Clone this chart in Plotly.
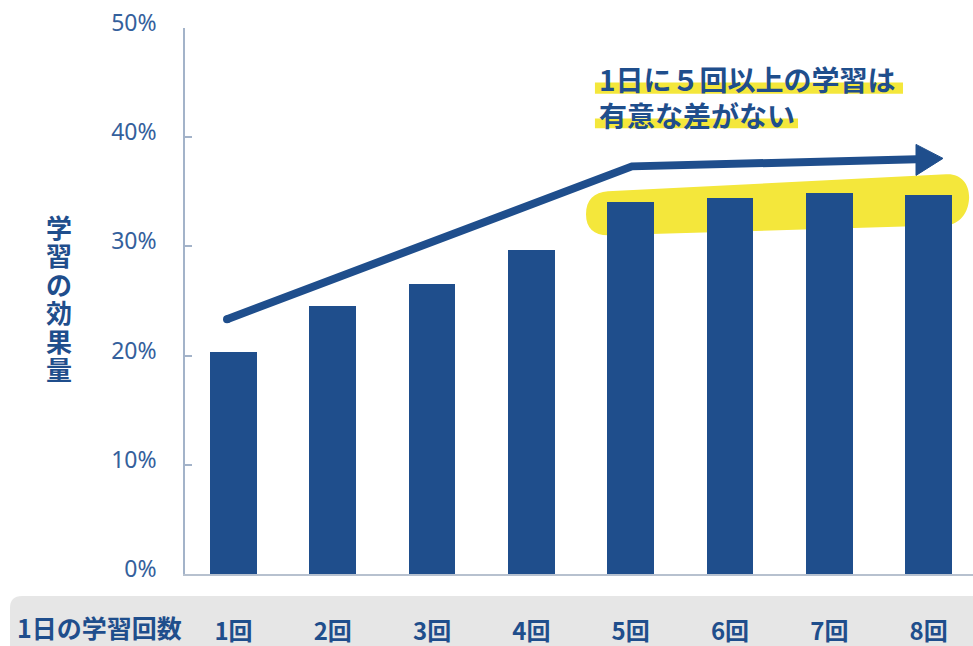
import plotly.graph_objects as go

# ---- data ----
categories = ["1回", "2回", "3回", "4回", "5回", "6回", "7回", "8回"]
effect = [20.3, 24.5, 26.6, 29.7, 34.1, 34.4, 34.9, 34.7]
y_ticks = [0, 10, 20, 30, 40, 50]
y_tick_labels = ["0%", "10%", "20%", "30%", "40%", "50%"]
x_title = "1日の学習回数"
y_title = "学習の効果量"
note_lines = ["1日に５回以上の学習は", "有意な差がない"]

# ---- style ----
BLUE = "#1f4e8c"
TICK_BLUE = "#34609c"
AXIS = "#a3b3c9"
YELLOW = "#f4e73b"
BAND = "#e6e6e6"
JP = "Noto Sans CJK JP"

W, H = 973, 646
L, R, T, B = 185, 0, 28, 72
plot_w = W - L - R
plot_h = H - T - B

xpos = list(range(len(categories)))

fig = go.Figure()
fig.add_trace(go.Bar(
    x=xpos, y=effect, width=0.47,
    marker=dict(color=BLUE, line=dict(width=0)),
    hoverinfo="skip",
))


def px_x(p):
    """pixel column -> paper x"""
    return (p - L) / plot_w


def px_y(p):
    """pixel row -> paper y"""
    return (H - B - p) / plot_h


shapes = []

# grey band behind the category labels (rounded on the left)
bx0, bx1 = px_x(10), px_x(990)
by0, by1 = px_y(660), px_y(596)
rx, ry = 12 / plot_w, 12 / plot_h
shapes.append(dict(
    type="path", xref="paper", yref="paper", layer="below",
    path=(f"M {bx0 + rx} {by1} L {bx1} {by1} L {bx1} {by0} L {bx0 + rx} {by0} "
          f"Q {bx0} {by0} {bx0} {by0 + ry} L {bx0} {by1 - ry} "
          f"Q {bx0} {by1} {bx0 + rx} {by1} Z"),
    fillcolor=BAND, line=dict(width=0),
))

# yellow highlight behind bars 5-8
shapes.append(dict(
    type="path", xref="x", yref="y", layer="below",
    path=("M 3.771 35.04 L 7.175 36.60 "
          "C 7.336 36.69 7.417 35.59 7.407 34.31 "
          "C 7.397 33.03 7.316 32.02 7.175 31.93 "
          "L 3.771 31.02 "
          "C 3.630 31.02 3.550 31.66 3.550 32.94 "
          "C 3.550 34.22 3.630 34.95 3.771 35.04 Z"),
    fillcolor=YELLOW, line=dict(width=0),
))

# marker-style underlines for the note text
shapes.append(dict(type="rect", xref="x", yref="y", layer="below",
                   x0=3.64, x1=6.742, y0=43.98, y1=45.01,
                   fillcolor=YELLOW, line=dict(width=0)))
shapes.append(dict(type="rect", xref="x", yref="y", layer="below",
                   x0=3.64, x1=5.685, y0=40.81, y1=41.72,
                   fillcolor=YELLOW, line=dict(width=0)))

# trend arrow
shapes.append(dict(
    type="path", xref="x", yref="y", layer="above",
    path="M -0.065 23.33 L 4.013 37.33 L 6.88 37.97",
    line=dict(color=BLUE, width=8),
))
shapes.append(dict(
    type="circle", xref="x", yref="y", layer="above",
    xsizemode="pixel", ysizemode="pixel", xanchor=-0.065, yanchor=23.33,
    x0=-4, x1=4, y0=-4, y1=4,
    fillcolor=BLUE, line=dict(width=0),
))
shapes.append(dict(
    type="path", xref="x", yref="y", layer="above",
    path="M 6.873 39.34 L 7.145 38.06 L 6.873 36.50 Z",
    fillcolor=BLUE, line=dict(color=BLUE, width=1),
))

annotations = []
# note text
annotations.append(dict(x=3.66, y=45.35, xref="x", yref="y", xanchor="left",
                        yanchor="middle", showarrow=False, text=note_lines[0],
                        font=dict(family=JP, size=28, color=BLUE, weight=700)))
annotations.append(dict(x=3.66, y=42.0, xref="x", yref="y", xanchor="left",
                        yanchor="middle", showarrow=False, text=note_lines[1],
                        font=dict(family=JP, size=28, color=BLUE, weight=700)))

# vertical y-axis title, one glyph per row (tight vertical stacking)
for i, ch in enumerate(y_title):
    annotations.append(dict(x=px_x(59), y=px_y(226 + 28.5 * i), xref="paper",
                            yref="paper", xanchor="center", yanchor="middle",
                            showarrow=False, text=ch,
                            font=dict(family=JP, size=26, color=BLUE, weight=700)))

# x-axis title inside the grey band
annotations.append(dict(x=px_x(15), y=px_y(627), xref="paper", yref="paper",
                        xanchor="left", yanchor="middle", showarrow=False,
                        text=x_title,
                        font=dict(family=JP, size=25, color=BLUE, weight=700)))

fig.update_layout(
    width=W, height=H,
    margin=dict(l=L, r=R, t=T, b=B, pad=0),
    paper_bgcolor="white", plot_bgcolor="white",
    showlegend=False,
    bargap=0,
    shapes=shapes,
    annotations=annotations,
    xaxis=dict(
        range=[-0.488, 7.447],
        tickmode="array", tickvals=xpos, ticktext=categories,
        ticks="", showgrid=False, zeroline=False,
        showline=True, linecolor="#b7c1cf", linewidth=1.5,
        ticklabelstandoff=35,
        tickfont=dict(family=JP, size=24, color=BLUE, weight=700),
        fixedrange=True,
    ),
    yaxis=dict(
        range=[0, 50],
        tickmode="array", tickvals=y_ticks, ticktext=y_tick_labels,
        ticks="inside", ticklen=7, tickwidth=1.5, tickcolor=AXIS,
        showgrid=False, zeroline=False,
        showline=True, linecolor=AXIS, linewidth=1.5,
        ticklabelstandoff=22, ticklabelshift=-5,
        tickfont=dict(family="Noto Sans", size=23, color=TICK_BLUE),
        fixedrange=True,
    ),
)

fig.write_html("out.html", config=dict(displayModeBar=False))
